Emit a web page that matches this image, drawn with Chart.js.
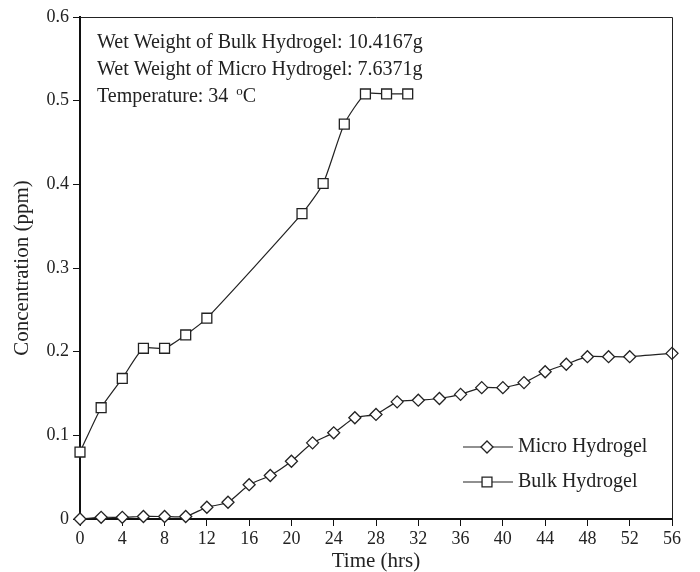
<!DOCTYPE html>
<html>
<head>
<meta charset="utf-8">
<script src="https://cdn.jsdelivr.net/npm/chart.js@4.4.1/dist/chart.umd.min.js"></script>
<style>
  body { margin: 0; background: #fff; }
  #wrap { width: 700px; height: 572px; }
</style>
</head>
<body>
<div id="wrap"><canvas id="mycanvas" width="700" height="572"></canvas></div>
<script>
// hours and concentration (ppm)
var microHours = [0, 2, 4, 6, 8, 10, 12, 14, 16, 18, 20, 22, 24, 26, 28, 30, 32, 34, 36, 38, 40, 42, 44, 46, 48, 50, 52, 56];
var microConc = [0, 0.002, 0.002, 0.003, 0.003, 0.003, 0.014, 0.020, 0.041, 0.052, 0.069, 0.091, 0.103, 0.121, 0.125,
                 0.140, 0.142, 0.144, 0.149, 0.157, 0.157, 0.163, 0.176, 0.185, 0.194, 0.194, 0.194, 0.198];
var bulkHours = [0, 2, 4, 6, 8, 10, 12, 21, 23, 25, 27, 29, 31];
var bulkConc = [0.080, 0.133, 0.168, 0.204, 0.204, 0.220, 0.240, 0.365, 0.401, 0.472, 0.508, 0.508, 0.508];
var xTicks = [0, 4, 8, 12, 16, 20, 24, 28, 32, 36, 40, 44, 48, 52, 56];
var yTicks = [0, 0.1, 0.2, 0.3, 0.4, 0.5, 0.6];
var notes = ['Wet Weight of Bulk Hydrogel: 10.4167g', 'Wet Weight of Micro Hydrogel: 7.6371g'];

var FONT = '"Liberation Serif", "Times New Roman", serif';

function pts(xs, ys) {
	var out = [];
	for (var i in xs) out.push({x: xs[i], y: ys[i]});
	return out;
}

// frame, annotation text and legend
var extras = {
	id: 'extras',
	afterDatasetsDraw: function(chart) {
		var ctx = chart.ctx;
		var a = chart.chartArea;
		ctx.save();
		ctx.strokeStyle = '#222';
		ctx.lineWidth = 1;
		ctx.beginPath();
		ctx.moveTo(a.left, a.top + 0.5);
		ctx.lineTo(a.right + 0.5, a.top + 0.5);
		ctx.lineTo(a.right + 0.5, a.bottom);
		ctx.stroke();

		ctx.fillStyle = '#222';
		ctx.font = '20px ' + FONT;
		ctx.textBaseline = 'middle';
		ctx.textAlign = 'left';
		ctx.fillText(notes[0], 97, 43);
		ctx.fillText(notes[1], 97, 70);
		var t = 'Temperature: 34 ';
		ctx.fillText(t, 97, 97);
		var w = ctx.measureText(t).width;
		ctx.font = '13px ' + FONT;
		ctx.fillText('o', 97 + w + 3, 92);
		var w2 = ctx.measureText('o').width;
		ctx.font = '20px ' + FONT;
		ctx.fillText('C', 97 + w + 3 + w2, 97);

		// legend
		var rows = [[0, 447], [1, 482]];
		rows.forEach(function(r) {
			var ds = chart.data.datasets[r[0]];
			var y = r[1];
			ctx.strokeStyle = '#222';
			ctx.lineWidth = 1.2;
			ctx.beginPath();
			ctx.moveTo(463, y);
			ctx.lineTo(513, y);
			ctx.stroke();
			ctx.fillStyle = '#fff';
			ctx.lineWidth = ds.pointBorderWidth;
			ctx.beginPath();
			if (ds.pointStyle === 'rect') {
				var s = ds.pointRadius * Math.SQRT1_2;
				ctx.rect(487 - s, y - s, 2 * s, 2 * s);
			} else {
				var r2 = ds.pointRadius;
				ctx.moveTo(487 - r2, y);
				ctx.lineTo(487, y - r2);
				ctx.lineTo(487 + r2, y);
				ctx.lineTo(487, y + r2);
				ctx.closePath();
			}
			ctx.fill();
			ctx.stroke();
			ctx.fillStyle = '#222';
			ctx.font = '20px ' + FONT;
			ctx.fillText(ds.label, 518, y);
		});
		ctx.restore();
	}
};

var chartdata = {
	datasets: [
		{
			label: 'Micro Hydrogel',
			data: pts(microHours, microConc),
			borderColor: '#222',
			borderWidth: 1.2,
			backgroundColor: '#fff',
			pointStyle: 'rectRot',
			pointRadius: 6,
			pointBorderWidth: 1.3,
			pointBackgroundColor: '#fff',
			pointBorderColor: '#222',
			tension: 0.2,
			clip: false
		},
		{
			label: 'Bulk Hydrogel',
			data: pts(bulkHours, bulkConc),
			borderColor: '#222',
			borderWidth: 1.2,
			backgroundColor: '#fff',
			pointStyle: 'rect',
			pointRadius: 7,
			pointBorderWidth: 1.3,
			pointBackgroundColor: '#fff',
			pointBorderColor: '#222',
			tension: 0.2,
			clip: false
		}
	]
};

var ctx = document.getElementById('mycanvas');

var lineGraph = new Chart(ctx, {
	type: 'line',
	data: chartdata,
	plugins: [extras],
	options: {
		responsive: false,
		animation: false,
		layout: { padding: { top: 17, right: 28, left: 0, bottom: 0 } },
		plugins: { legend: { display: false }, tooltip: { enabled: false } },
		scales: {
			x: {
				type: 'linear',
				min: 0,
				max: 56,
				afterBuildTicks: function(scale) {
					scale.ticks = xTicks.map(function(v) { return {value: v}; });
				},
				afterFit: function(scale) { scale.height = 53; },
				border: { color: '#111', width: 2 },
				grid: { drawOnChartArea: false, drawTicks: true, tickLength: 7, color: '#111', tickWidth: 1 },
				ticks: { color: '#222', font: { family: FONT, size: 18 }, padding: 2, maxRotation: 0, autoSkip: false },
				title: { display: true, text: 'Time (hrs)', color: '#222', font: { family: FONT, size: 21, lineHeight: 1 }, padding: 0 }
			},
			y: {
				type: 'linear',
				min: 0,
				max: 0.6,
				afterBuildTicks: function(scale) {
					scale.ticks = yTicks.map(function(v) { return {value: v}; });
				},
				afterFit: function(scale) { scale.width = 80; },
				border: { color: '#111', width: 2 },
				grid: { drawOnChartArea: false, drawTicks: true, tickLength: 7, color: '#111', tickWidth: 1 },
				ticks: { color: '#222', font: { family: FONT, size: 18 }, padding: 4, autoSkip: false },
				title: { display: true, text: 'Concentration (ppm)', color: '#222', font: { family: FONT, size: 21, lineHeight: 1 }, padding: { top: 12, bottom: 0 } }
			}
		}
	}
});
</script>
</body>
</html>
